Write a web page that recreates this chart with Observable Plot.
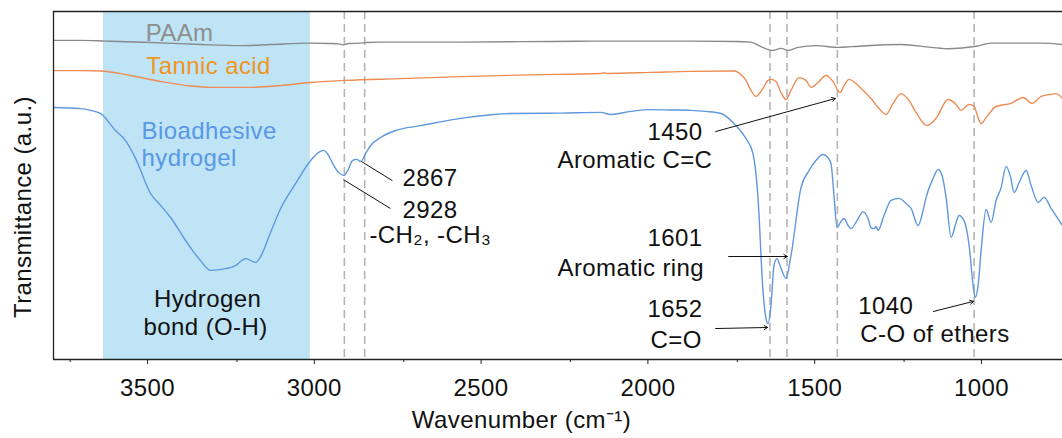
<!DOCTYPE html>
<html><head><meta charset="utf-8">
<script src="https://cdn.jsdelivr.net/npm/d3@7"></script>
<script src="https://cdn.jsdelivr.net/npm/@observablehq/plot@0.6"></script>
<style>
html,body{margin:0;padding:0;background:#fff;overflow:hidden}
svg text{letter-spacing:0.4px}
</style></head><body><div id="chart"></div>
<script>
// ---- Spectra (wavenumber cm-1, transmittance a.u.) ----
const paamWn = [3800,3719,3644,3509,3359,3239,3149,3032,2969,2945,2930,2915,2879,2864,2819,2609,2309,2150,1889,1754,1709,1679,1643,1619,1598,1568,1514,1448,1409,1259,1169,1115,1034,989,839,775];
const paamT  = [91.7,91.7,91.5,91.1,90.5,90.2,90.5,90.9,90.8,90.7,90.4,90.8,90.9,91.1,91.2,91.2,91.4,91.5,91.5,91.4,91.2,89.9,88.8,89.4,88.8,89.7,90.2,89.7,89.9,90.5,89.7,89.3,90.0,90.9,90.9,90.5];

const tannicWn = [3800,3719,3659,3569,3479,3389,3329,3209,3119,3032,2924,2759,2579,2369,2159,2150,2141,2009,1889,1760,1739,1724,1709,1694,1673,1658,1649,1634,1619,1604,1589,1565,1544,1529,1508,1484,1463,1442,1430,1415,1394,1379,1349,1325,1304,1283,1259,1235,1214,1181,1154,1118,1094,1079,1055,1040,1028,1019,1004,974,929,893,866,839,809,794,775];
const tannicT  = [83.0,83.0,82.9,81.6,79.9,78.6,78.2,78.2,78.7,79.6,80.2,80.7,81.3,81.8,82.2,82.4,82.2,82.5,82.8,82.9,81.9,80.2,77.3,75.6,77.9,80.2,80.5,79.9,76.7,74.7,77.3,81.0,80.2,78.2,79.6,81.6,79.9,76.7,78.7,80.5,79.3,77.9,75.0,72.1,70.4,73.6,76.4,74.4,71.0,67.2,69.3,74.7,73.3,71.6,73.3,72.7,69.5,67.8,69.5,72.7,73.6,75.3,73.6,75.6,76.2,76.4,75.0];

const gelWn = [3800,3719,3689,3659,3614,3584,3554,3509,3479,3449,3404,3359,3329,3284,3254,3224,3194,3173,3155,3119,3074,3029,3005,2990,2975,2963,2945,2930,2918,2903,2891,2879,2864,2849,2819,2774,2699,2564,2429,2279,2159,2129,2069,2009,1949,1889,1844,1799,1754,1724,1703,1688,1673,1664,1658,1649,1640,1631,1622,1604,1589,1559,1535,1514,1493,1478,1469,1460,1451,1439,1430,1418,1409,1391,1373,1358,1349,1340,1334,1328,1310,1289,1265,1244,1229,1208,1193,1184,1163,1148,1136,1124,1109,1094,1085,1070,1055,1043,1037,1028,1019,1004,989,974,959,944,932,920,905,884,869,848,830,809,775];
const gelT  = [72.4,72.1,71.6,70.7,65.8,62.9,57.8,47.7,44.3,40.8,34.2,28.4,25.6,26.1,27.0,29.0,27.9,30.7,35.1,43.4,50.6,57.2,59.5,60.1,58.6,56.3,53.7,52.9,54.3,57.2,57.5,56.9,59.2,61.5,63.8,65.8,67.2,69.5,70.7,70.8,71.0,70.4,71.3,71.8,71.7,71.6,71.3,70.7,67.2,63.5,59.2,46.6,19.8,11.8,10.3,15.5,27.0,29.0,27.0,23.3,29.9,49.4,54.3,57.2,58.9,58.0,56.3,47.1,37.9,39.7,40.5,38.5,37.6,39.9,42.5,40.5,37.9,37.6,38.2,37.1,41.4,45.7,46.3,44.8,43.4,38.5,42.8,46.6,52.0,54.6,52.9,46.6,35.1,39.4,41.4,39.9,32.8,21.3,17.8,21.3,31.3,43.1,39.4,45.7,49.4,55.5,52.9,48.0,50.9,54.3,50.0,45.1,46.6,43.4,38.5];

// ---- Annotations ----
const peakLines = [2928, 2867, 1652, 1601, 1450, 1040];
const bandFrom = 3650, bandTo = 3030;
const majorTicks = [3500, 3000, 2500, 2000, 1500, 1000];
const minorTicks = [3750, 3250, 2750, 2250, 1750, 1250, 750];

const centeredSeriesLabels = [
  {t: "PAAm", x: 3422, y: 91.4, c: "#8e8e8e"},
  {t: "Tannic acid", x: 3335, y: 81.9, c: "#f0951e"}
];
const leftSeriesLabels = [
  {t: "Bioadhesive", x: 3536, y: 63.5, c: "#5a97e6"},
  {t: "hydrogel", x: 3536, y: 55.5, c: "#5a97e6"}
];
const centeredNotes = [
  {t: "Hydrogen", x: 3338, y: 15.2},
  {t: "bond (O-H)", x: 3344, y: 6.9}
];
const leftNotes = [
  {t: "2867", x: 2754, y: 50.0},
  {t: "2928", x: 2754, y: 40.8},
  {t: "-CH₂, -CH₃", x: 2853, y: 33.6},
  {t: "1450", x: 2019, y: 63.2},
  {t: "Aromatic C=C", x: 2289, y: 54.9},
  {t: "1601", x: 2019, y: 32.5},
  {t: "Aromatic ring", x: 2289, y: 24.1},
  {t: "1652", x: 2019, y: 12.1},
  {t: "C=O", x: 2010, y: 3.4},
  {t: "1040", x: 1387, y: 13.2},
  {t: "C-O of ethers", x: 1381, y: 4.9}
];
const leaders = [
  {x1: 2784, y1: 51.4, x2: 2877, y2: 56.9},
  {x1: 2790, y1: 43.4, x2: 2931, y2: 51.7}
];
const arrows = [
  {x1: 1815, y1: 65.5, x2: 1456, y2: 75.0},
  {x1: 1776, y1: 29.6, x2: 1600, y2: 29.6},
  {x1: 1815, y1: 8.9, x2: 1659, y2: 9.2},
  {x1: 1162, y1: 13.8, x2: 1042, y2: 16.7}
];

const mk = (wn, t) => wn.map((w, i) => ({wn: w, t: t[i]}));
const paam = mk(paamWn, paamT), tannic = mk(tannicWn, tannicT), gel = mk(gelWn, gelT);
const FS = 24;

const chart = Plot.plot({
  width: 1062, height: 438,
  marginLeft: 53, marginRight: 0, marginTop: 11, marginBottom: 79,
  x: {domain: [3800, 775]},
  y: {domain: [0, 100], axis: null},
  style: {fontFamily: "'Liberation Sans', Arial, sans-serif", fontSize: FS + "px", background: "white", overflow: "visible"},
  marks: [
    Plot.rect([{}], {x1: bandFrom, x2: bandTo, y1: 0, y2: 100, fill: "#bee4f6"}),
    Plot.ruleX(peakLines, {stroke: "#b4b4b4", strokeWidth: 1.6, strokeDasharray: "8,5"}),
    Plot.line(paam, {x: "wn", y: "t", stroke: "#8a8a8a", strokeWidth: 1.4, curve: "monotone-x"}),
    Plot.line(tannic, {x: "wn", y: "t", stroke: "#ee8c54", strokeWidth: 1.4, curve: "monotone-x"}),
    Plot.line(gel, {x: "wn", y: "t", stroke: "#5e98de", strokeWidth: 1.4, curve: "monotone-x"}),
    Plot.ruleY([100], {stroke: "#222", strokeWidth: 1.3}),
    Plot.ruleY([0], {stroke: "#222", strokeWidth: 1.3}),
    Plot.ruleX([3800], {stroke: "#222", strokeWidth: 1.3}),
    Plot.axisX({ticks: majorTicks, tickSize: 5, tickPadding: 14, tickFormat: d => String(d), dx: -6, fontSize: FS, label: null, stroke: "#222", fill: "#111"}),
    Plot.axisX({ticks: minorTicks, tickSize: 3, tickFormat: () => "", label: null, stroke: "#222"}),
    Plot.text(centeredSeriesLabels, {x: "x", y: "y", text: "t", fill: "c", textAnchor: "middle", lineAnchor: "bottom", fontSize: FS}),
    Plot.text(leftSeriesLabels, {x: "x", y: "y", text: "t", fill: "c", textAnchor: "start", lineAnchor: "bottom", fontSize: FS}),
    Plot.text(centeredNotes, {x: "x", y: "y", text: "t", fill: "#111", textAnchor: "middle", lineAnchor: "bottom", fontSize: FS}),
    Plot.text(leftNotes, {x: "x", y: "y", text: "t", fill: "#111", textAnchor: "start", lineAnchor: "bottom", fontSize: FS}),
    Plot.link(leaders, {x1: "x1", y1: "y1", x2: "x2", y2: "y2", stroke: "#111", strokeWidth: 1}),
    Plot.arrow(arrows, {x1: "x1", y1: "y1", x2: "x2", y2: "y2", stroke: "#111", strokeWidth: 1, headLength: 6}),
    Plot.text(["Wavenumber (cm⁻¹)"], {x: 2397, y: -19.8, text: d => d, lineAnchor: "bottom", fontSize: FS, fill: "#111"}),
    Plot.text(["Transmittance (a.u.)"], {x: 3800, y: 43.8, text: d => d, rotate: -90, dx: -30, fontSize: FS, fill: "#111"})
  ]
});
document.getElementById("chart").appendChild(chart);
</script></body></html>
